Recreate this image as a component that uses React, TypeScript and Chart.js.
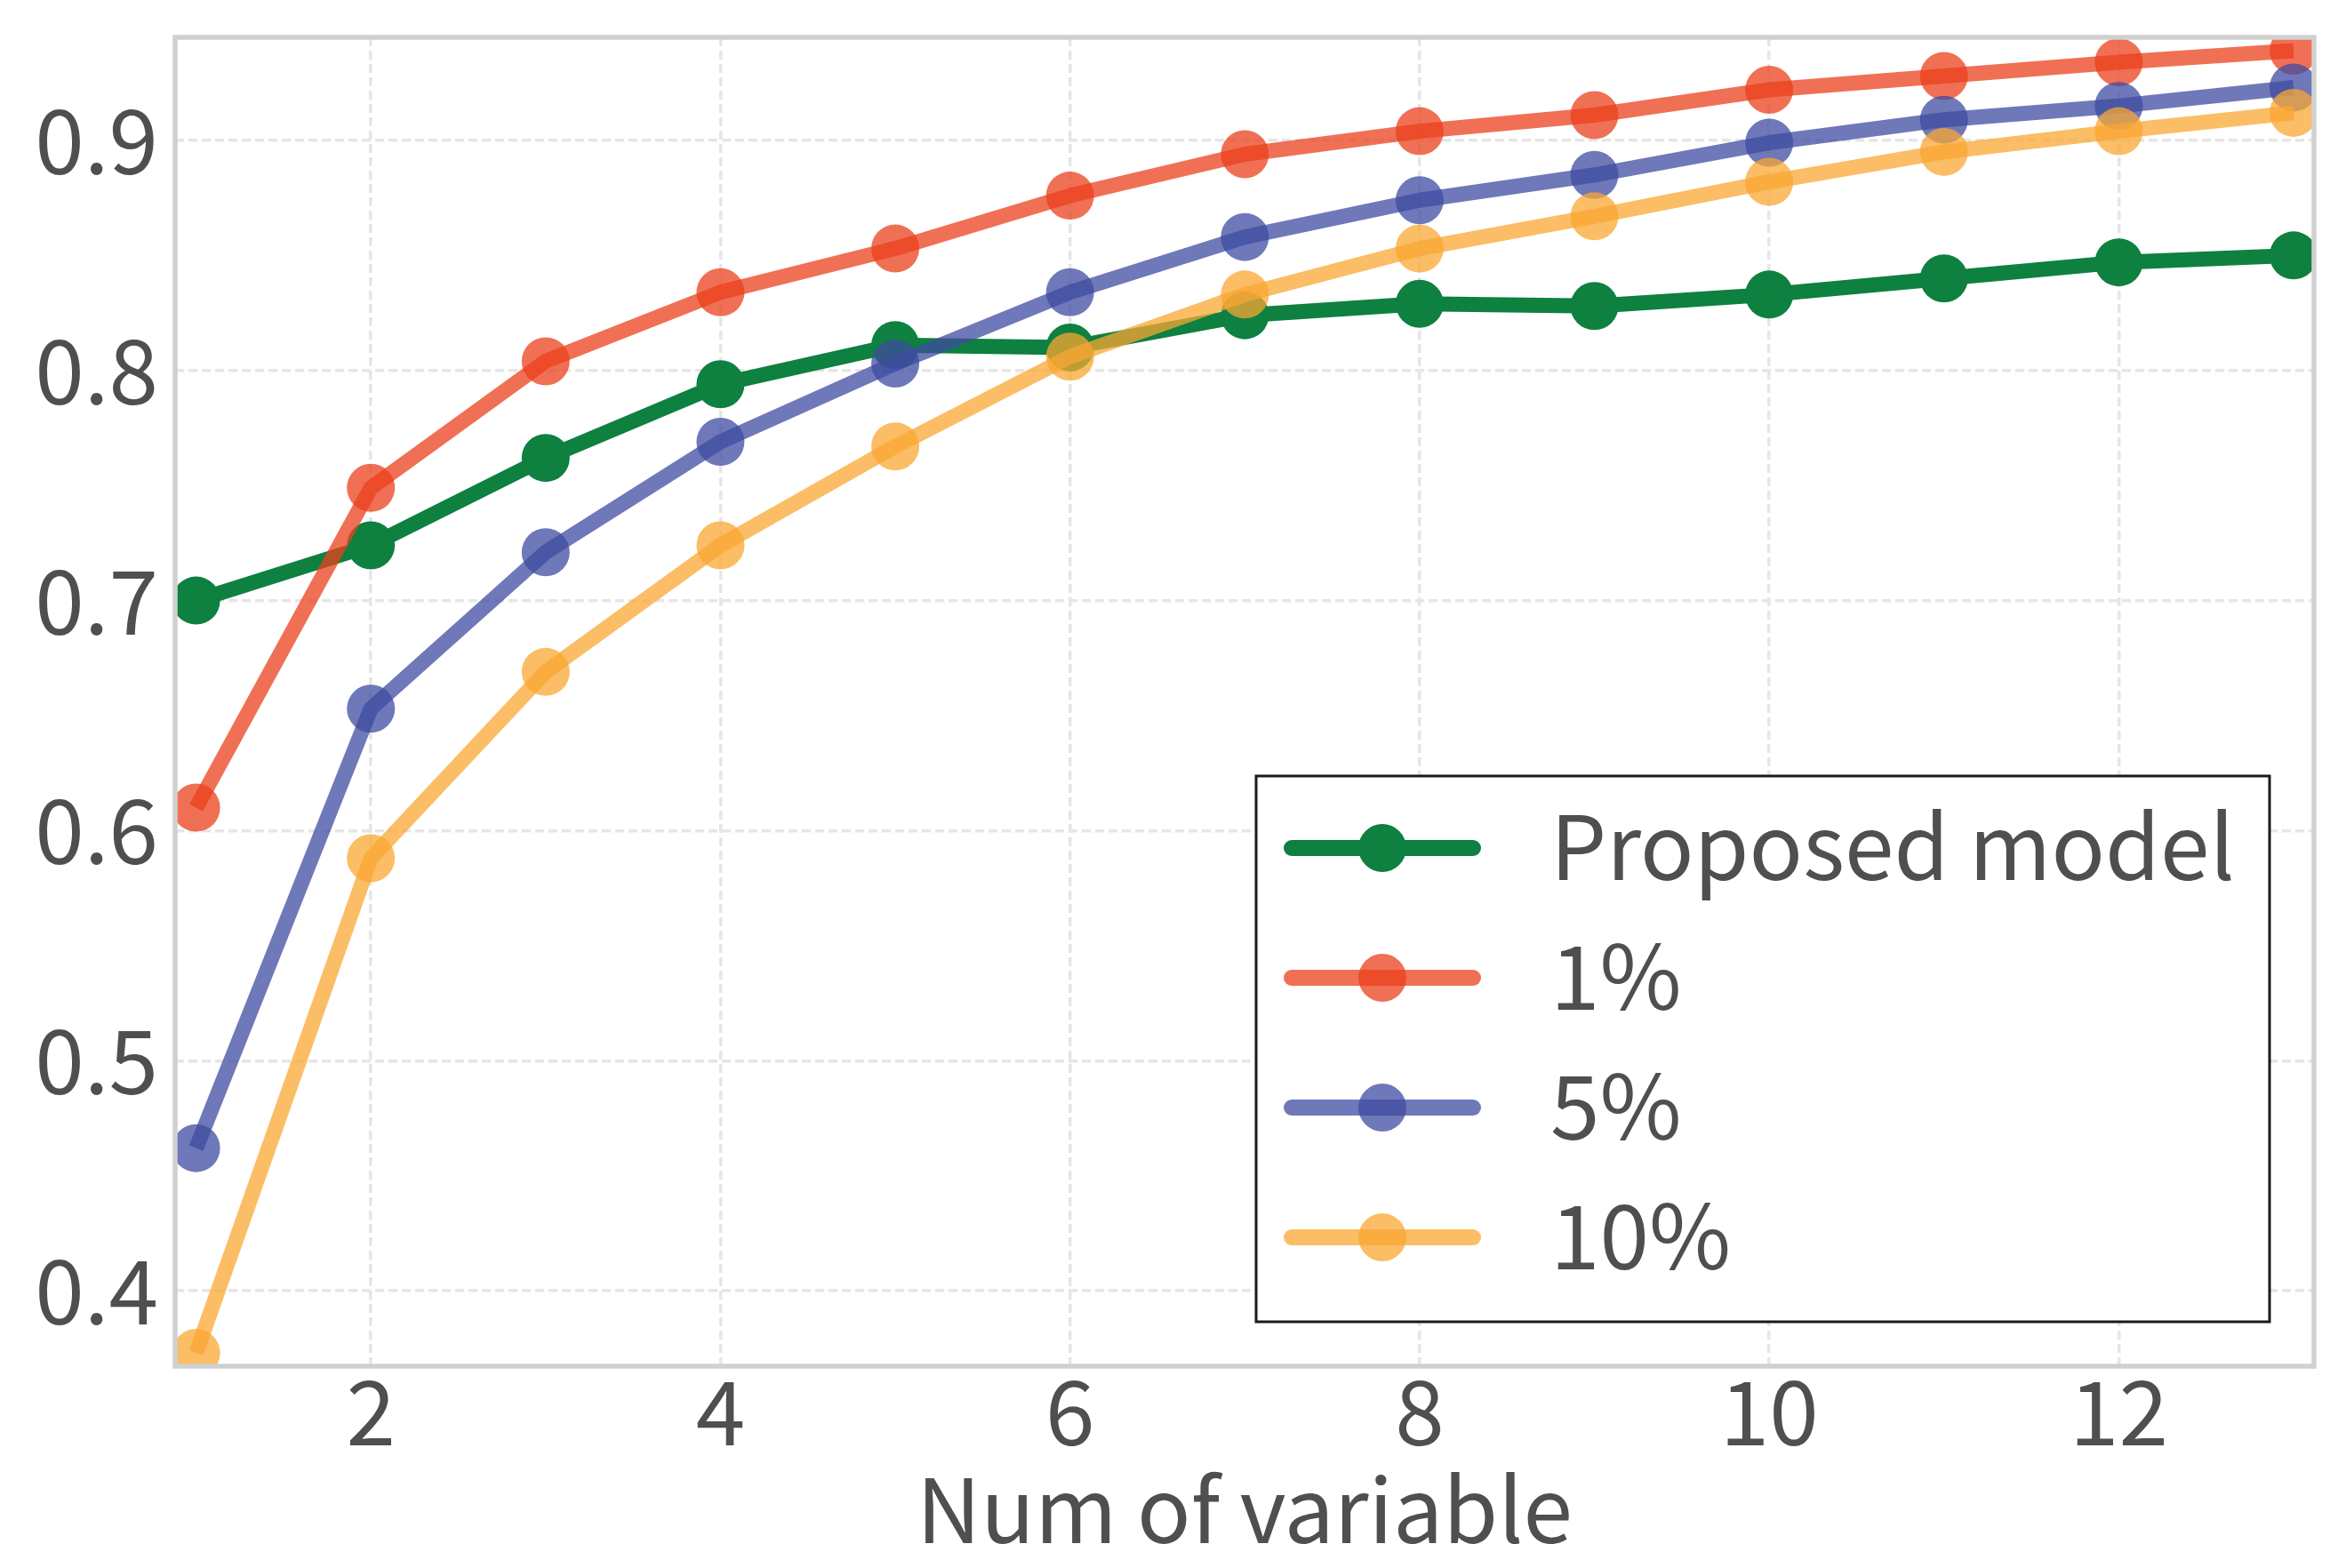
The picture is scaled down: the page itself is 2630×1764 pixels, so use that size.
import { useEffect, useRef } from 'react'
import { Chart, registerables } from 'chart.js'

Chart.register(...registerables)

// values
const numVars = [1, 2, 3, 4, 5, 6, 7, 8, 9, 10, 11, 12, 13]
const proposed = [0.700, 0.724, 0.762, 0.794, 0.811, 0.810, 0.824, 0.829, 0.828, 0.833, 0.840, 0.847, 0.850]
const pct1 = [0.610, 0.749, 0.804, 0.834, 0.853, 0.876, 0.894, 0.904, 0.911, 0.922, 0.928, 0.934, 0.939]
const pct5 = [0.462, 0.653, 0.721, 0.769, 0.803, 0.834, 0.858, 0.874, 0.885, 0.899, 0.909, 0.915, 0.923]
const pct10 = [0.373, 0.588, 0.669, 0.724, 0.767, 0.806, 0.833, 0.853, 0.867, 0.882, 0.895, 0.904, 0.912]
const seriesLabels = ['Proposed model', '1%', '5%', '10%']
const seriesColors = ['rgb(14,128,64)', 'rgba(235,64,28,0.75)', 'rgba(63,75,160,0.75)', 'rgba(250,167,51,0.75)']
const xTicks = [2, 4, 6, 8, 10, 12]
const yTicks = [0.4, 0.5, 0.6, 0.7, 0.8, 0.9]
const xTitle = 'Num of variable'

const FONT = "'Noto Sans CJK JP', 'Noto Sans', sans-serif"
const WEIGHT = 400
const TEXT = '#4f4f4f'

// matplotlib-like frame round the plot area
const framePlugin = {
  id: 'frame',
  afterDatasetsDraw(chart: any) {
    const { ctx, chartArea: a } = chart
    ctx.save()
    ctx.strokeStyle = '#d0d0d0'
    ctx.lineWidth = 5.5
    ctx.strokeRect(a.left, a.top, a.right - a.left, a.bottom - a.top)
    ctx.restore()
  },
}

// legend boxed inside the lower right corner of the plot
const insideLegend = {
  id: 'insideLegend',
  afterDraw(chart: any) {
    const { ctx, chartArea: a } = chart
    const w = 1140, h = 614
    const left = a.right - 50 - w
    const top = a.bottom - 50 - h
    ctx.save()
    ctx.fillStyle = '#ffffff'
    ctx.fillRect(left, top, w, h)
    ctx.strokeStyle = '#1a1a1a'
    ctx.lineWidth = 3
    ctx.strokeRect(left, top, w, h)
    chart.data.datasets.forEach((ds: any, i: number) => {
      const y = top + 81 + i * 146
      ctx.strokeStyle = ds.borderColor
      ctx.lineWidth = 18
      ctx.lineCap = 'round'
      ctx.beginPath()
      ctx.moveTo(left + 40, y)
      ctx.lineTo(left + 244, y)
      ctx.stroke()
      ctx.fillStyle = ds.pointBackgroundColor
      ctx.beginPath()
      ctx.arc(left + 142, y, 27, 0, Math.PI * 2)
      ctx.fill()
      ctx.fillStyle = TEXT
      ctx.font = `${WEIGHT} 100px ${FONT}`
      ctx.textBaseline = 'alphabetic'
      ctx.textAlign = 'left'
      ctx.fillText(ds.label, left + 331, y + 36)
    })
    ctx.restore()
  },
}

export default function App() {
  const canvasRef = useRef<HTMLCanvasElement>(null)
  const chartRef = useRef<Chart | null>(null)

  useEffect(() => {
    if (!canvasRef.current) return
    if (chartRef.current) { chartRef.current.destroy(); chartRef.current = null }

    const series = [proposed, pct1, pct5, pct10]

    chartRef.current = new Chart(canvasRef.current, {
      type: 'line',
      plugins: [framePlugin, insideLegend],
      data: {
        datasets: series.map((vals, i) => ({
          label: seriesLabels[i],
          data: numVars.map((x, j) => ({ x, y: vals[j] })),
          borderColor: seriesColors[i],
          backgroundColor: seriesColors[i],
          pointBackgroundColor: seriesColors[i],
          borderWidth: 17,
          borderJoinStyle: 'round' as const,
          pointRadius: 27,
          pointBorderWidth: 0,
          pointHoverRadius: 27,
          fill: false,
          tension: 0,
          clip: 0,
          order: series.length - i,
        })),
      },
      options: {
        responsive: true,
        maintainAspectRatio: false,
        animation: false,
        events: [],
        layout: { padding: { top: 42, right: 26, left: 0, bottom: 0 } },
        plugins: {
          legend: { display: false },
          tooltip: { enabled: false },
        },
        scales: {
          x: {
            type: 'linear',
            min: 0.88,
            max: 13.117,
            afterBuildTicks: (scale: any) => { scale.ticks = xTicks.map(v => ({ value: v })) },
            afterFit: (scale: any) => { scale.height = 227; scale.paddingLeft = 0; scale.paddingRight = 0 },
            grid: { color: '#e6e6e6', lineWidth: 3.5, drawTicks: false },
            border: { display: false, dash: [10, 5] },
            ticks: {
              color: TEXT,
              padding: 1,
              maxRotation: 0,
              font: { family: FONT, size: 100, weight: WEIGHT, lineHeight: 1 },
              callback: (v: any) => String(v),
            },
            title: {
              display: true,
              text: xTitle,
              color: TEXT,
              font: { family: FONT, size: 100, weight: WEIGHT, lineHeight: 1.2 },
              padding: { top: 0, bottom: 6 },
            },
          },
          y: {
            type: 'linear',
            min: 0.3672,
            max: 0.9448,
            afterBuildTicks: (scale: any) => { scale.ticks = yTicks.map(v => ({ value: v })) },
            afterFit: (scale: any) => { scale.width = 197; scale.paddingTop = 0; scale.paddingBottom = 0 },
            grid: { color: '#e6e6e6', lineWidth: 3.5, drawTicks: false },
            border: { display: false, dash: [10, 5] },
            ticks: {
              color: TEXT,
              padding: 19,
              font: { family: FONT, size: 100, weight: WEIGHT },
              callback: (v: any) => Number(v).toFixed(1),
            },
          },
        },
      },
    } as any)

    return () => { chartRef.current?.destroy(); chartRef.current = null }
  }, [])

  return (
    <div style={{ position: 'fixed', left: 0, top: 0, width: 2630, height: 1764, background: '#ffffff' }}>
      <canvas ref={canvasRef} />
    </div>
  )
}
